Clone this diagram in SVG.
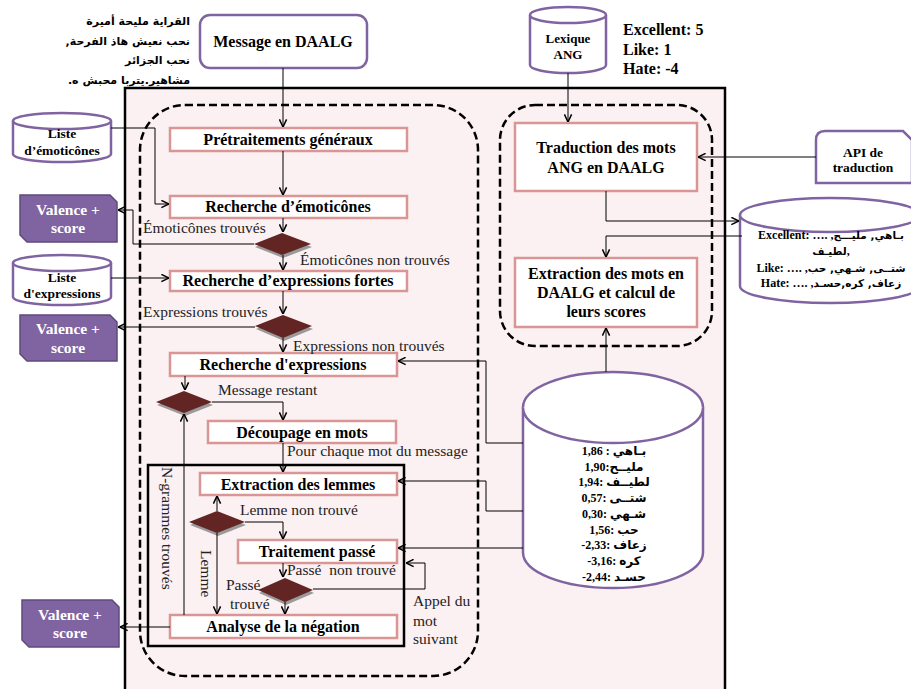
<svg xmlns="http://www.w3.org/2000/svg" width="911" height="689" viewBox="0 0 911 689">
<defs>
<style>
.bx{fill:#fff;stroke:#d99694;stroke-width:2.5}
.pu{fill:#fff;stroke:#8064a2;stroke-width:2.5}
.val{fill:#8064a2;stroke:#5f4a7d;stroke-width:1.5}
.dia{fill:#632523}
.sh{fill:#9a9a9a}
.dash{fill:none;stroke:#000;stroke-width:2.5;stroke-dasharray:8 4}
.ln{fill:none;stroke:#000;stroke-width:1}
.t{font-family:"Liberation Serif",serif;font-weight:bold;font-size:16px;fill:#000;text-anchor:middle}
.ts{font-family:"Liberation Serif",serif;font-weight:bold;font-size:13.5px;fill:#000;text-anchor:middle}
.tw{font-family:"Liberation Serif",serif;font-weight:bold;font-size:15.5px;fill:#fff;text-anchor:middle}
.lb{font-family:"Liberation Serif",serif;font-size:15.5px;fill:#222}
.ar{font-family:"Liberation Serif","DejaVu Sans",sans-serif;font-weight:bold;font-size:12px;fill:#000}
.arl{font-family:"DejaVu Sans",sans-serif;font-weight:bold;font-size:11px;fill:#000}
.sm{font-family:"DejaVu Sans",sans-serif;font-size:10.5px}
</style>
<marker id="a" viewBox="0 0 10 10" refX="9.5" refY="5" markerWidth="9" markerHeight="9" markerUnits="userSpaceOnUse" orient="auto">
<path d="M1,1 L9.5,5 L1,9" fill="none" stroke="#000" stroke-width="1.7"/>
</marker>
</defs>

<rect x="125" y="88" width="600" height="615" fill="#fbf0f2" stroke="#000" stroke-width="2.5"/>
<rect x="140" y="105" width="338" height="571" rx="45" class="dash"/>
<rect x="500" y="105" width="212" height="241" rx="35" class="dash"/>
<rect x="148" y="465" width="256" height="181" fill="none" stroke="#000" stroke-width="2.5"/>

<g id="arabic-message">
<text class="arl" x="190" y="25" direction="rtl" text-anchor="start">القراية مليحة أميرة</text>
<text class="arl" x="190" y="45" direction="rtl" text-anchor="start">نحب نعيش هاذ الفرحة,</text>
<text class="arl" x="190" y="64" direction="rtl" text-anchor="start">نحب الجزائر</text>
<text class="arl" x="190" y="84" direction="rtl" text-anchor="start">مشاهير.يتربا محبش ه.</text>
</g>

<g id="message">
<rect x="200" y="15" width="167" height="53" rx="10" class="pu"/>
<text class="t" x="283" y="47">Message en DAALG</text>
</g>

<g id="lexique">
<path d="M530,15 A38,8 0 0 1 606,15 V65 A38,8 0 0 1 530,65 Z" class="pu"/>
<path d="M530,15 A38,8 0 0 0 606,15" class="pu" fill="none"/>
<text class="ts" x="568" y="43" style="font-size:13px">Lexique</text>
<text class="ts" x="568" y="59" style="font-size:13px">ANG</text>
</g>

<g id="scores-ang">
<text class="t" x="623" y="35" style="text-anchor:start">Excellent: 5</text>
<text class="t" x="623" y="55" style="text-anchor:start">Like: 1</text>
<text class="t" x="623" y="74" style="text-anchor:start">Hate: -4</text>
</g>

<g id="liste-emoticones">
<path d="M13,121 A49,8 0 0 1 111,121 V154 A49,8 0 0 1 13,154 Z" class="pu"/>
<path d="M13,121 A49,8 0 0 0 111,121" class="pu" fill="none"/>
<text class="ts" x="62" y="138">Liste</text>
<text class="ts" x="62" y="155">d’émoticônes</text>
</g>

<g id="liste-expressions">
<path d="M13,263 A49,8 0 0 1 111,263 V297 A49,8 0 0 1 13,297 Z" class="pu"/>
<path d="M13,263 A49,8 0 0 0 111,263" class="pu" fill="none"/>
<text class="ts" x="62" y="282">Liste</text>
<text class="ts" x="62" y="298">d'expressions</text>
</g>

<g id="valence1">
<path d="M20,195 H110 L117,202 V242 H27 L20,235 Z" class="val"/>
<text class="tw" x="68" y="215">Valence +</text>
<text class="tw" x="68" y="233">score</text>
</g>
<g id="valence2">
<path d="M20,315 H110 L117,322 V361 H27 L20,354 Z" class="val"/>
<text class="tw" x="68" y="334">Valence +</text>
<text class="tw" x="68" y="353">score</text>
</g>
<g id="valence3">
<path d="M22,600 H112 L119,607 V647 H29 L22,640 Z" class="val"/>
<text class="tw" x="70" y="620">Valence +</text>
<text class="tw" x="70" y="638">score</text>
</g>

<g id="pretraitements">
<rect x="170" y="128" width="237" height="23" class="bx"/>
<text class="t" x="288" y="145">Prétraitements généraux</text>
</g>
<g id="recherche-emoticones">
<rect x="170" y="196" width="237" height="22" class="bx"/>
<text class="t" x="288" y="212">Recherche d’émoticônes</text>
</g>
<g id="d1">
<polygon points="255,247 283,236 312,247 283,258" class="sh"/>
<polygon points="254,244 282,233 311,244 282,255" class="dia"/>
</g>
<g id="recherche-fortes">
<rect x="170" y="271" width="237" height="20" class="bx"/>
<text class="t" x="288" y="286">Recherche d’expressions fortes</text>
</g>
<g id="d2">
<polygon points="256,329 284,318 313,329 284,341" class="sh"/>
<polygon points="255,326 283,315 312,326 283,338" class="dia"/>
</g>
<g id="recherche-expressions">
<rect x="170" y="353" width="227" height="23" class="bx"/>
<text class="t" x="283" y="370">Recherche d'expressions</text>
</g>
<g id="d3">
<polygon points="157,405 185,394 213,405 185,416" class="sh"/>
<polygon points="156,402 184,391 212,402 184,413" class="dia"/>
</g>
<g id="decoupage">
<rect x="208" y="421" width="188" height="22" class="bx"/>
<text class="t" x="302" y="438">Découpage en mots</text>
</g>
<g id="extraction-lemmes">
<rect x="200" y="473" width="197" height="22" class="bx"/>
<text class="t" x="298" y="490">Extraction des lemmes</text>
</g>
<g id="d4">
<polygon points="190,525 218,514 246,525 218,536" class="sh"/>
<polygon points="189,522 217,511 245,522 217,533" class="dia"/>
</g>
<g id="traitement-passe">
<rect x="238" y="540" width="159" height="23" class="bx"/>
<text class="t" x="317" y="557">Traitement passé</text>
</g>
<g id="d5">
<polygon points="259,593 286,581 314,593 286,605" class="sh"/>
<polygon points="258,590 285,578 313,590 285,602" class="dia"/>
</g>
<g id="analyse-negation">
<rect x="170" y="615" width="227" height="23" class="bx"/>
<text class="t" x="283" y="632">Analyse de la négation</text>
</g>

<g id="traduction">
<rect x="515" y="123" width="182" height="68" class="bx"/>
<text class="t" x="606" y="153">Traduction des mots</text>
<text class="t" x="606" y="173">ANG en DAALG</text>
</g>
<g id="extraction-mots">
<rect x="515" y="258" width="182" height="69" class="bx"/>
<text class="t" x="606" y="279">Extraction des mots en</text>
<text class="t" x="606" y="298">DAALG et calcul de</text>
<text class="t" x="606" y="317">leurs scores</text>
</g>

<g id="api">
<path d="M816,183 V140 Q816,131 825,131 H903 L912,140 V183 Z" class="pu"/>
<text class="ts" x="863" y="157">API de</text>
<text class="ts" x="863" y="172">traduction</text>
</g>

<g id="lexique-daalg">
<path d="M740,215 A90,17 0 0 1 920,215 V286 A90,17 0 0 1 740,286 Z" class="pu"/>
<path d="M740,215 A90,17 0 0 0 920,215" class="pu" fill="none"/>
<text class="ar" x="831" y="239" text-anchor="middle">Excellent: …. ,<tspan class="sm">بـاهي, مليـــح</tspan></text>
<text class="ar" x="831" y="255" text-anchor="middle"><tspan class="sm">لطيـف</tspan>,</text>
<text class="ar" x="831" y="272" text-anchor="middle">Like: …. ,<tspan class="sm">شتــى, شـهي, حب</tspan></text>
<text class="ar" x="831" y="287" text-anchor="middle">Hate: …. ,<tspan class="sm">زعاف, كره,حسـد</tspan></text>
</g>

<g id="lexique-scores">
<path d="M523,407.5 A90,35.5 0 0 1 703,407.5 V552.5 A90,35.5 0 0 1 523,552.5 Z" class="pu"/>
<path d="M523,407.5 A90,35.5 0 0 0 703,407.5" class="pu" fill="none"/>
<text class="ar" x="614" y="455" text-anchor="middle">1,86 : بـاهي</text>
<text class="ar" x="614" y="471" text-anchor="middle">1,90:مليــح</text>
<text class="ar" x="614" y="486" text-anchor="middle">1,94: لطيــف</text>
<text class="ar" x="614" y="502" text-anchor="middle">0,57: شتــى</text>
<text class="ar" x="614" y="518" text-anchor="middle">0,30: شـهي</text>
<text class="ar" x="614" y="534" text-anchor="middle">1,56:  حب</text>
<text class="ar" x="614" y="549" text-anchor="middle">-2,33: زعاف</text>
<text class="ar" x="614" y="565" text-anchor="middle">-3,16: كره</text>
<text class="ar" x="614" y="581" text-anchor="middle">-2,44: حسـد</text>
</g>

<g id="connectors" class="ln">
<path class="ln" marker-end="url(#a)" d="M283,68 V127"/>
<path class="ln" marker-end="url(#a)" d="M568,73 V122"/>
<path class="ln" marker-end="url(#a)" d="M283,151 V195"/>
<path class="ln" marker-end="url(#a)" d="M283,218 V232"/>
<path class="ln" marker-end="url(#a)" d="M283,255 V270"/>
<path class="ln" marker-end="url(#a)" d="M283,291 V314"/>
<path class="ln" marker-end="url(#a)" d="M283,338 V352"/>
<path class="ln" marker-end="url(#a)" d="M185,376 V390"/>
<path class="ln" marker-end="url(#a)" d="M212,402 H283 V420"/>
<path class="ln" marker-end="url(#a)" d="M283,443 V472"/>
<path class="ln" marker-end="url(#a)" d="M184,615 V414"/>
<path class="ln" marker-end="url(#a)" d="M217,511 V496"/>
<path class="ln" marker-end="url(#a)" d="M245,522 H283 V539"/>
<path class="ln" marker-end="url(#a)" d="M217,533 V614"/>
<path class="ln" marker-end="url(#a)" d="M283,563 V577"/>
<path class="ln" marker-end="url(#a)" d="M285,602 V614"/>
<path class="ln" marker-end="url(#a)" d="M313,589 H425 V563 H406"/>
<path class="ln" marker-end="url(#a)" d="M111,128 H155 V204 H169"/>
<path class="ln" marker-end="url(#a)" d="M111,278 H169"/>
<path class="ln" marker-end="url(#a)" d="M254,244 H133 V210 H118"/>
<path class="ln" marker-end="url(#a)" d="M255,327 H118"/>
<path class="ln" marker-end="url(#a)" d="M170,627 H120"/>
<path class="ln" marker-end="url(#a)" d="M816,157 H698"/>
<path class="ln" marker-end="url(#a)" d="M606,191 V221 H739"/>
<path class="ln" marker-end="url(#a)" d="M742,236 H606 V257"/>
<path class="ln" marker-end="url(#a)" d="M606,372 V328"/>
<path class="ln" marker-end="url(#a)" d="M523,443 H486 V361 H398"/>
<path class="ln" marker-end="url(#a)" d="M523,511 H486 V481 H398"/>
<path class="ln" marker-end="url(#a)" d="M523,548 H398"/>
</g>

<g id="labels">
<text class="lb" x="143" y="233">Émoticônes trouvés</text>
<text class="lb" x="300" y="265">Émoticônes non trouvés</text>
<text class="lb" x="143" y="317">Expressions trouvés</text>
<text class="lb" x="293" y="351">Expressions non trouvés</text>
<text class="lb" x="218" y="395">Message restant</text>
<text class="lb" x="287" y="456">Pour chaque mot du message</text>
<text class="lb" x="240" y="515">Lemme non trouvé</text>
<text class="lb" x="287" y="575" xml:space="preserve">Passé  non trouvé</text>
<text class="lb" x="226" y="590">Passé</text>
<text class="lb" x="230" y="609">trouvé</text>
<text class="lb" x="413" y="606">Appel du</text>
<text class="lb" x="413" y="626">mot</text>
<text class="lb" x="413" y="644">suivant</text>
<text class="lb" transform="translate(162,467) rotate(90)">N-grammes trouvés</text>
<text class="lb" transform="translate(201,550) rotate(90)">Lemme</text>
</g>
</svg>
